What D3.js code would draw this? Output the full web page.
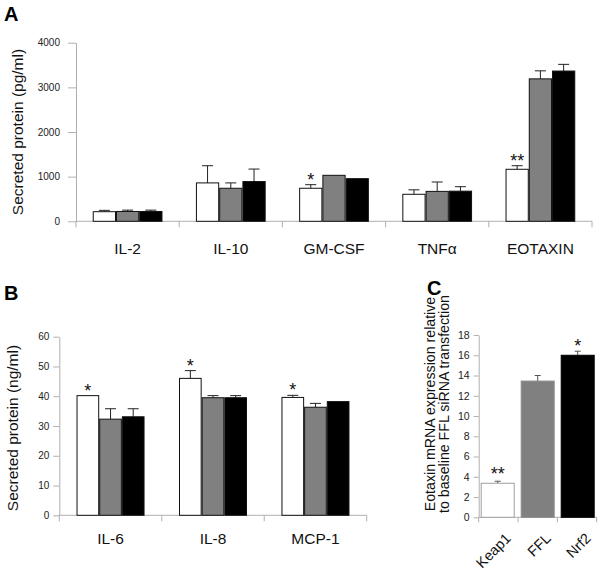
<!DOCTYPE html>
<html><head><meta charset="utf-8">
<script src="https://cdn.jsdelivr.net/npm/d3@7"></script>
<style>
body{margin:0;background:#fff;}
svg{display:block;font-family:"Liberation Sans",Arial,sans-serif;}
</style></head>
<body><svg id="c" width="600" height="574"></svg>
<script>
// ---------- DATA ----------
const seriesKeys = ["white", "gray", "black"];
const seriesFill = {white: "#ffffff", gray: "#808080", black: "#000000"};

// Panel A (pg/ml)
const catsA = ["IL-2", "IL-10", "GM-CSF", "TNF\u03B1", "EOTAXIN"];
const aWhite = [215, 860, 740, 605, 1165];
const aGray  = [220, 740, 1030, 670, 3190];
const aBlack = [220, 890, 955, 675, 3365];
const aWhiteErr = [30, 385, 80, 100, 80];
const aGrayErr  = [30, 120, 0, 210, 180];
const aBlackErr = [30, 280, 0, 100, 150];
const aStars = [{cat: "GM-CSF", s: "white", label: "*"}, {cat: "EOTAXIN", s: "white", label: "**"}];
const ticksA = [0, 1000, 2000, 3000, 4000];

// Panel B (ng/ml)
const catsB = ["IL-6", "IL-8", "MCP-1"];
const bWhite = [40.2, 46.0, 39.6];
const bGray  = [32.3, 39.5, 36.3];
const bBlack = [33.1, 39.5, 38.2];
const bWhiteErr = [0, 2.6, 0.7];
const bGrayErr  = [3.5, 0.7, 1.3];
const bBlackErr = [2.7, 0.7, 0];
const bStars = [{cat: "IL-6", s: "white", label: "*"}, {cat: "IL-8", s: "white", label: "*"}, {cat: "MCP-1", s: "white", label: "*"}];
const ticksB = [0, 10, 20, 30, 40, 50, 60];

// Panel C (relative expression)
const catsC = ["Keap1", "FFL", "Nrf2"];
const cValues = [3.36, 13.45, 16.0];
const cErr = [0.2, 0.55, 0.4];
const cStars = ["**", "", "*"];
const ticksC = [0, 2, 4, 6, 8, 10, 12, 14, 16, 18];

// ---------- DRAW ----------
const svg = d3.select("#c");
const AXIS = "#b0b0b0";

function groupedPanel(opt) {
  const g = svg.append("g");
  const x0 = d3.scaleBand().domain(opt.cats).range(opt.xr).padding(0);
  const x1 = d3.scaleBand().domain(seriesKeys).range([0, x0.bandwidth()]).paddingInner(0).paddingOuter(opt.po);
  const y = d3.scaleLinear().domain([0, opt.ymax]).range(opt.yr);
  const rows = [];
  opt.cats.forEach((c, i) => {
    seriesKeys.forEach(s => rows.push({cat: c, s: s, v: opt.vals[s][i], e: opt.errs[s][i]}));
  });
  // y axis
  const ya = g.append("g").attr("transform", `translate(${opt.xr[0]},0)`)
    .call(d3.axisLeft(y).tickValues(opt.ticks).tickFormat(d3.format("d")).tickSize(opt.tickLen).tickSizeOuter(0).tickPadding(opt.tickPad));
  ya.selectAll("path,line").attr("stroke", AXIS);
  ya.selectAll("text").attr("font-size", opt.tickFont).attr("fill", "#222").attr("font-family", "Liberation Sans, Arial");
  // x axis
  const xa = g.append("g").attr("transform", `translate(0,${y(0)})`);
  xa.append("line").attr("x1", opt.xr[0]).attr("x2", opt.xr[1]).attr("stroke", AXIS);
  const bounds = opt.cats.map(c => x0(c)).concat([x0(opt.cats[opt.cats.length - 1]) + x0.bandwidth()]);
  xa.selectAll(".bt").data(bounds).join("line").attr("class", "bt").attr("x1", d => d).attr("x2", d => d)
    .attr("y1", 0).attr("y2", 6).attr("stroke", AXIS);
  xa.selectAll(".cl").data(opt.cats).join("text").attr("class", "cl")
    .attr("x", c => x0(c) + x0.bandwidth() / 2).attr("y", opt.catY - y(0))
    .attr("text-anchor", "middle").attr("font-size", 15.5).attr("fill", "#111").text(c => c);
  // error bars
  const eg = g.append("g").attr("stroke", "#222").attr("stroke-width", 1);
  rows.filter(r => r.e > 0).forEach(r => {
    const cx = x0(r.cat) + x1(r.s) + x1.bandwidth() / 2;
    eg.append("line").attr("x1", cx).attr("x2", cx).attr("y1", y(r.v)).attr("y2", y(r.v + r.e));
    eg.append("line").attr("x1", cx - 5.5).attr("x2", cx + 5.5).attr("y1", y(r.v + r.e)).attr("y2", y(r.v + r.e));
  });
  // bars
  g.append("g").selectAll("rect").data(rows).join("rect")
    .attr("x", r => x0(r.cat) + x1(r.s) + 0.5)
    .attr("width", x1.bandwidth() - 1)
    .attr("y", r => y(r.v))
    .attr("height", r => y(0) - y(r.v))
    .attr("fill", r => seriesFill[r.s])
    .attr("stroke", "#111").attr("stroke-width", 1);
  // stars
  opt.stars.forEach(st => {
    const i = opt.cats.indexOf(st.cat);
    const v = opt.vals[st.s][i] + opt.errs[st.s][i];
    g.append("text").attr("x", x0(st.cat) + x1(st.s) + x1.bandwidth() / 2)
      .attr("y", y(v) + 1).attr("text-anchor", "middle").attr("font-size", 18).attr("fill", "#111").text(st.label);
  });
  // y label
  g.append("text").attr("transform", `translate(${opt.ylabX},${opt.ylabY}) rotate(-90)`)
    .attr("text-anchor", "middle").attr("font-size", 15.5).attr("fill", "#111").text(opt.ylab);
  // panel letter
  g.append("text").attr("x", opt.letter[1]).attr("y", opt.letter[2]).attr("font-size", 20)
    .attr("font-weight", "bold").attr("fill", "#000").text(opt.letter[0]);
}

groupedPanel({
  cats: catsA, xr: [76, 592], yr: [221.3, 42.7], ymax: 4000, po: 0.72,
  vals: {white: aWhite, gray: aGray, black: aBlack},
  errs: {white: aWhiteErr, gray: aGrayErr, black: aBlackErr},
  stars: aStars, ticks: ticksA, tickLen: 8, tickPad: 8, tickFont: 10,
  catY: 254, ylab: "Secreted protein (pg/ml)", ylabX: 23, ylabY: 132,
  letter: ["A", 4, 21]
});

groupedPanel({
  cats: catsB, xr: [59.3, 366.7], yr: [515.3, 336.7], ymax: 60, po: 0.76,
  vals: {white: bWhite, gray: bGray, black: bBlack},
  errs: {white: bWhiteErr, gray: bGrayErr, black: bBlackErr},
  stars: bStars, ticks: ticksB, tickLen: 6, tickPad: 4, tickFont: 10,
  catY: 544, ylab: "Secreted protein (ng/ml)", ylabX: 18, ylabY: 428,
  letter: ["B", 4, 300]
});

// Panel C
(function () {
  const g = svg.append("g");
  const x = d3.scaleBand().domain(catsC).range([478.7, 596.7]).paddingInner(0.15).paddingOuter(0.05);
  const y = d3.scaleLinear().domain([0, 18]).range([517.3, 335]);
  const ya = g.append("g").attr("transform", "translate(478.7,0)")
    .call(d3.axisLeft(y).tickValues(ticksC).tickSize(5).tickSizeOuter(0).tickPadding(4));
  ya.selectAll("path,line").attr("stroke", AXIS);
  ya.selectAll("text").attr("font-size", 10.5).attr("fill", "#222").attr("font-family", "Liberation Sans, Arial");
  const xa = g.append("g").attr("transform", `translate(0,${y(0)})`);
  xa.append("line").attr("x1", 478.7).attr("x2", 596.7).attr("stroke", AXIS);
  const r0 = x.range()[0], r1 = x.range()[1];
  const bounds = [0, 1, 2, 3].map(i => r0 + i * (r1 - r0) / 3);
  xa.selectAll(".bt").data(bounds).join("line").attr("class", "bt").attr("x1", d => d).attr("x2", d => d)
    .attr("y1", 0).attr("y2", 5).attr("stroke", AXIS);
  xa.selectAll(".cl").data(catsC).join("text").attr("class", "cl")
    .attr("transform", c => `translate(${x(c) + x.bandwidth() / 2 + 14},${22}) rotate(-45)`)
    .attr("text-anchor", "end").attr("font-size", 14.5).attr("fill", "#111").text(c => c);
  // error bars
  const eg = g.append("g").attr("stroke", "#555").attr("stroke-width", 1);
  catsC.forEach((c, i) => {
    const cx = x(c) + x.bandwidth() / 2;
    eg.append("line").attr("x1", cx).attr("x2", cx).attr("y1", y(cValues[i])).attr("y2", y(cValues[i] + cErr[i]));
    eg.append("line").attr("x1", cx - 3).attr("x2", cx + 3).attr("y1", y(cValues[i] + cErr[i])).attr("y2", y(cValues[i] + cErr[i]));
  });
  const fills = ["#ffffff", "#808080", "#000000"];
  const strokes = ["#a0a0a0", "#8a8a8a", "#000000"];
  g.append("g").selectAll("rect").data(catsC).join("rect")
    .attr("x", c => x(c) + 0.5).attr("width", x.bandwidth() - 1)
    .attr("y", (c, i) => y(cValues[i])).attr("height", (c, i) => y(0) - y(cValues[i]))
    .attr("fill", (c, i) => fills[i]).attr("stroke", (c, i) => strokes[i]);
  catsC.forEach((c, i) => {
    if (!cStars[i]) return;
    g.append("text").attr("x", x(c) + x.bandwidth() / 2).attr("y", y(cValues[i] + cErr[i]) + (i === 0 ? -1 : 1))
      .attr("text-anchor", "middle").attr("font-size", 18).attr("fill", "#111").text(cStars[i]);
  });
  const yl = g.append("text").attr("transform", "translate(0,404) rotate(-90)")
    .attr("text-anchor", "middle").attr("font-size", 14.2).attr("fill", "#111");
  yl.append("tspan").attr("x", 0).attr("y", 435).text("Eotaxin mRNA expression relative");
  yl.append("tspan").attr("x", 0).attr("y", 449).text("to baseline FFL siRNA transfection");
  g.append("text").attr("x", 427).attr("y", 295).attr("font-size", 20).attr("font-weight", "bold").text("C");
})();
</script></body></html>
